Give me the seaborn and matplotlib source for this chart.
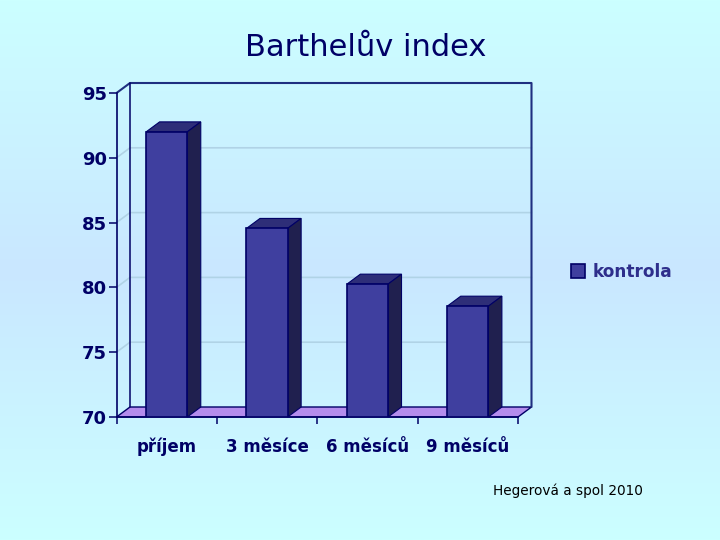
import numpy as np
import pandas as pd
import matplotlib
matplotlib.use("Agg")
import matplotlib.pyplot as plt
from matplotlib.colors import LinearSegmentedColormap
from matplotlib.patches import Polygon
import seaborn as sns

categories = ["příjem", "3 měsíce", "6 měsíců", "9 měsíců"]
values = [92.0, 84.55, 80.25, 78.55]
series_name = "kontrola"
y_ticks = [70, 75, 80, 85, 90, 95]
title = "Barthelův index"
credit = "Hegerová a spol 2010"

NAVY = "#000066"
FRONT = "#3F3F9F"
TOP = "#2E2E78"
SIDE = "#20204F"
FLOOR = "#B48CEC"
GRID = "#B0D3E6"
FONT = ["DejaVu Sans"]

sns.set_theme(style="white")
plt.rcParams["font.family"] = FONT

fig = plt.figure(figsize=(7.2, 5.4), dpi=100)

bg = fig.add_axes([0, 0, 1, 1], zorder=0)
cmap = LinearSegmentedColormap.from_list("bg", ["#CCFFFF", "#C9E7FF", "#CCFFFF"])
bg.imshow(np.linspace(0, 1, 256).reshape(-1, 1), aspect="auto", cmap=cmap, extent=[0, 1, 0, 1])
bg.axis("off")

ax = fig.add_axes([116.5 / 720, (540 - 417) / 540, 401.5 / 720, 324 / 540], zorder=1)
ax.patch.set_alpha(0)

df = pd.DataFrame({"x": categories, "y": values, "s": series_name})
sns.barplot(data=df, x="x", y="y", hue="s", palette=[FRONT], width=0.41, dodge=False,
            saturation=1, edgecolor=NAVY, linewidth=1.2, ax=ax, zorder=5)

ax.set_xlim(-0.5, len(categories) - 0.5)
ax.set_ylim(y_ticks[0], y_ticks[-1])

# depth of the 3D box, from pixel sizes of the axes
dx = 13.5 / 100.4
dy = 10 / 12.96
x0, x1 = ax.get_xlim()
y0, y1 = ax.get_ylim()

# floor
ax.add_patch(Polygon([(x0, y0), (x1, y0), (x1 + dx, y0 + dy), (x0 + dx, y0 + dy)],
                     fc=FLOOR, ec=NAVY, lw=1.0, clip_on=False, zorder=1))
# grid on the walls
for t in y_ticks[1:-1]:
    ax.plot([x0, x0 + dx, x1 + dx], [t, t + dy, t + dy], color=GRID, lw=1.2,
            clip_on=False, zorder=0.5)
# wall outlines
ax.plot([x0, x0 + dx, x1 + dx, x1 + dx], [y1, y1 + dy, y1 + dy, y0 + dy], color="#1F2F80", lw=1.5,
        clip_on=False, zorder=2)
ax.plot([x0 + dx, x0 + dx], [y0 + dy, y1 + dy], color=NAVY, lw=1.1, clip_on=False, zorder=2)

# depth of every bar
for bar in list(ax.containers[0]):
    l, r = bar.get_x(), bar.get_x() + bar.get_width()
    h = bar.get_y() + bar.get_height()
    ax.add_patch(Polygon([(l, h), (r, h), (r + dx, h + dy), (l + dx, h + dy)],
                         fc=TOP, ec=NAVY, lw=0.8, clip_on=False, zorder=4))
    ax.add_patch(Polygon([(r, y0), (r, h), (r + dx, h + dy), (r + dx, y0 + dy)],
                         fc=SIDE, ec=NAVY, lw=0.8, clip_on=False, zorder=4))

for s in ["top", "right"]:
    ax.spines[s].set_visible(False)
for s in ["left", "bottom"]:
    ax.spines[s].set_color(NAVY)
    ax.spines[s].set_linewidth(1.2)
    ax.spines[s].set_zorder(6)

positions = np.arange(len(categories))
ax.set_xticks(np.append(positions - 0.5, positions[-1] + 0.5))
ax.set_xticklabels([])
ax.set_xticks(positions, categories, minor=True)
ax.tick_params(axis="x", which="major", length=5, width=1.1, color=NAVY, bottom=True)
ax.tick_params(axis="x", which="minor", length=0, pad=15, labelsize=12, labelcolor=NAVY, bottom=False)
for lab in ax.get_xticklabels(minor=True):
    lab.set_fontweight("bold")
ax.set_yticks(y_ticks)
ax.tick_params(axis="y", length=6, width=1.1, color=NAVY, left=True, pad=1, labelsize=13, labelcolor=NAVY)
for lab in ax.get_yticklabels():
    lab.set_fontweight("bold")
ax.set_xlabel("")
ax.set_ylabel("")

h, l = ax.get_legend_handles_labels()
ax.get_legend().remove()
fig.legend(h, l, loc="center left", bbox_to_anchor=(557 / 720, 1 - 272 / 540), frameon=False,
           handlelength=0.85, handleheight=0.85, handletextpad=0.45, borderpad=0.3,
           prop={"family": FONT, "weight": "bold", "size": 12.2}, labelcolor="#2E2E8C")

fig.text(366 / 720, 1 - 47 / 540, title, ha="center", va="center", fontsize=22,
         color=NAVY, family=["DejaVu Sans"], zorder=5)
fig.text(567.5 / 720, 1 - 491 / 540, credit, ha="center", va="center", fontsize=9.8,
         color="#000000", family=["DejaVu Sans"], zorder=5)

fig.savefig("out.png", dpi=100)
